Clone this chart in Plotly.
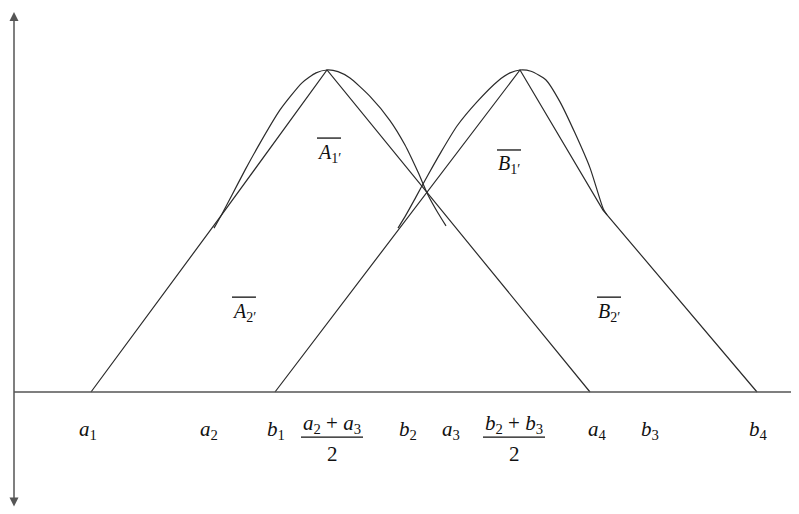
import plotly.graph_objects as go

# ---- data (abstract units: x along horizontal axis, y = membership) ----
# Piecewise-linear outline of fuzzy number A
A_line_x = [7.7, 20.6, 31.3, 57.6]
A_line_y = [0.0, 0.543, 1.0, 0.0]
# Curved part of A
A_curve_x = [20.0, 20.8, 21.8, 23.1, 24.6, 26.6, 28.8, 30.2, 31.3, 32.4, 33.6, 35.6, 37.6, 39.1, 40.4, 41.4, 42.4, 43.2]
A_curve_y = [0.509, 0.553, 0.612, 0.689, 0.773, 0.876, 0.960, 0.991, 1.0, 0.995, 0.975, 0.918, 0.843, 0.767, 0.683, 0.612, 0.556, 0.516]

# Piecewise-linear outline of fuzzy number B
B_line_x = [26.1, 50.6, 58.9, 74.3]
B_line_y = [0.0, 1.0, 0.565, 0.0]
# Curved part of B
B_curve_x = [38.4, 39.2, 40.2, 41.4, 42.7, 44.3, 46.3, 48.4, 49.6, 50.6, 51.7, 53.2, 54.6, 56.1, 57.6, 58.9, 59.3]
B_curve_y = [0.509, 0.550, 0.606, 0.674, 0.745, 0.826, 0.901, 0.966, 0.991, 1.0, 0.996, 0.969, 0.901, 0.804, 0.696, 0.571, 0.550]

# Tick labels under the horizontal axis
tick_x = [7.4, 19.5, 26.2, 39.4, 43.7, 58.3, 63.6, 74.4]
tick_text = ["a<sub>1</sub>", "a<sub>2</sub>", "b<sub>1</sub>", "b<sub>2</sub>",
             "a<sub>3</sub>", "a<sub>4</sub>", "b<sub>3</sub>", "b<sub>4</sub>"]
# Fraction labels
frac_x = [31.8, 50.0]
frac_num = ["a<sub>2</sub> + a<sub>3</sub>", "b<sub>2</sub> + b<sub>3</sub>"]
frac_den = ["2", "2"]

# Region labels (overlined)
region_x = [31.5, 23.0, 49.5, 59.5]
region_y = [0.742, 0.248, 0.705, 0.248]
region_letter = ["A", "A", "B", "B"]
region_sub = ["1′", "2′", "1′", "2′"]

# axis extents (page body has an 8px margin; ranges compensate)
x_min, x_max = -0.6, 79.3
y_min, y_max = -0.4037, 1.1925
vaxis_top, vaxis_bottom = 1.18, -0.36

LINE = "#2b2b2b"
AXIS = "#555555"
FONT = "Liberation Serif, Times New Roman, serif"

fig = go.Figure()
for xs, ys in [(A_line_x, A_line_y), (B_line_x, B_line_y)]:
    fig.add_trace(go.Scatter(x=xs, y=ys, mode="lines",
                             line=dict(color=LINE, width=1.2), hoverinfo="skip"))
for xs, ys in [(A_curve_x, A_curve_y), (B_curve_x, B_curve_y)]:
    fig.add_trace(go.Scatter(x=xs, y=ys, mode="lines",
                             line=dict(color=LINE, width=1.2, shape="spline", smoothing=0.6),
                             hoverinfo="skip"))

shapes = []
# horizontal axis
shapes.append(dict(type="line", xref="x", yref="y", x0=0, x1=x_max, y0=0, y1=0,
                   line=dict(color=AXIS, width=1.5)))

annotations = []
# vertical axis with arrowheads at both ends
annotations.append(dict(x=0, y=vaxis_top, ax=0, ay=vaxis_bottom, xref="x", yref="y",
                        axref="x", ayref="y", text="", showarrow=True,
                        arrowside="end+start", arrowhead=2, arrowsize=1.2,
                        arrowwidth=1.5, arrowcolor=AXIS))

def italic(t):
    return t.replace("a<", "<i>a</i><").replace("b<", "<i>b</i><")

tick_y = -0.118
for x, t in zip(tick_x, tick_text):
    annotations.append(dict(x=x, y=tick_y, xref="x", yref="y", text=italic(t), showarrow=False,
                            font=dict(family=FONT, size=21, color="#111")))

for x, num, den in zip(frac_x, frac_num, frac_den):
    annotations.append(dict(x=x, y=-0.1, xref="x", yref="y", text=italic(num), showarrow=False,
                            font=dict(family=FONT, size=21, color="#111")))
    annotations.append(dict(x=x, y=-0.192, xref="x", yref="y", text=den, showarrow=False,
                            font=dict(family=FONT, size=21, color="#111")))
    shapes.append(dict(type="line", xref="x", yref="y", xsizemode="pixel", ysizemode="pixel",
                       xanchor=x, yanchor=-0.14, x0=-31, x1=31, y0=0, y1=0,
                       line=dict(color="#111", width=1.3)))

for x, y, L, s in zip(region_x, region_y, region_letter, region_sub):
    annotations.append(dict(x=x, y=y, xref="x", yref="y",
                            text=f"<i>{L}</i><sub>{s}</sub>", showarrow=False,
                            font=dict(family=FONT, size=20, color="#111")))
    shapes.append(dict(type="line", xref="x", yref="y", xsizemode="pixel", ysizemode="pixel",
                       xanchor=x, yanchor=y, x0=-12, x1=12, y0=15, y1=15,
                       line=dict(color="#111", width=1.3)))

fig.update_layout(
    width=799, height=514,
    margin=dict(l=0, r=0, t=0, b=0),
    paper_bgcolor="white", plot_bgcolor="white",
    showlegend=False,
    xaxis=dict(range=[x_min, x_max], visible=False, fixedrange=True),
    yaxis=dict(range=[y_min, y_max], visible=False, fixedrange=True),
    shapes=shapes, annotations=annotations,
)
fig.write_html("out.html")
